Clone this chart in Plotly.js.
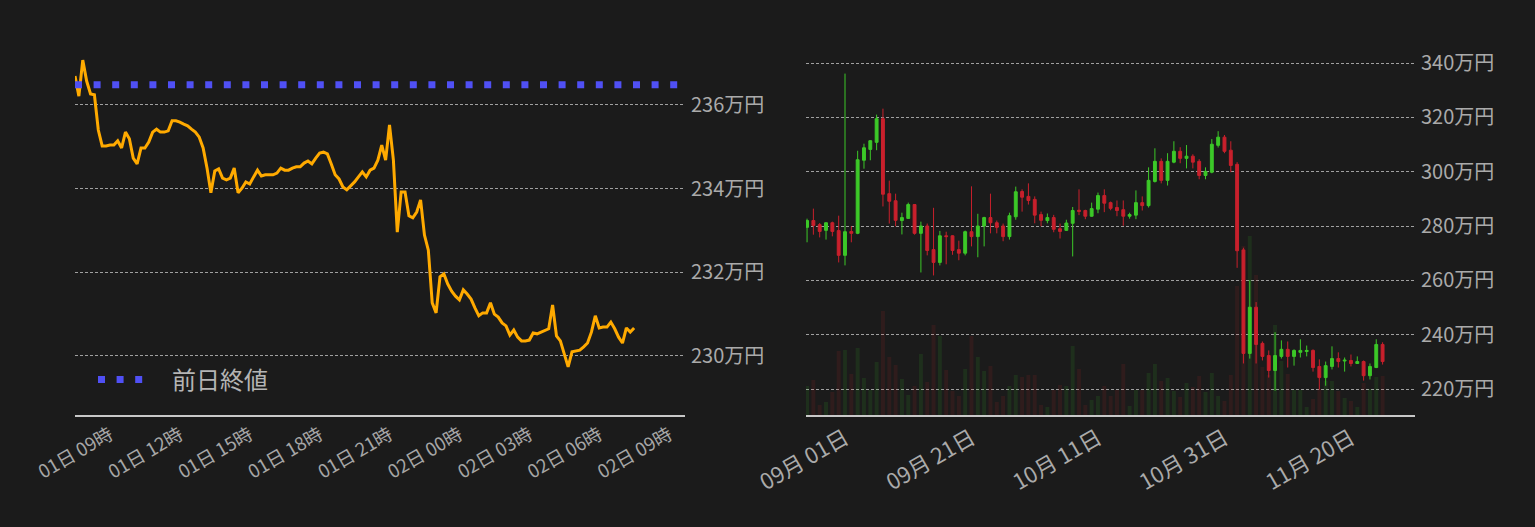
<!DOCTYPE html>
<html>
<head>
<meta charset="utf-8">
<script src="https://cdn.plot.ly/plotly-3.0.1.min.js"></script>
<style>
  html, body { margin: 0; padding: 0; background: #1b1b1b; }
  #chart { width: 1535px; height: 527px; }
</style>
</head>
<body>
<div id="chart"></div>
<script>
// ---- intraday (10 min samples, 万円) ----
let intraStart = Date.UTC(2022, 10, 1, 7, 30);
let intraPrice = [
  236.69, 236.21, 237.07, 236.57, 236.26, 236.24, 235.40, 235.02, 235.02, 235.04,
  235.04, 235.14, 234.97, 235.35, 235.19, 234.73, 234.59, 234.97, 234.97, 235.11,
  235.35, 235.42, 235.35, 235.35, 235.38, 235.62, 235.62, 235.59, 235.54, 235.50,
  235.42, 235.35, 235.23, 234.97, 234.49, 233.90, 234.42, 234.47, 234.25, 234.21,
  234.25, 234.49, 233.90, 234.01, 234.16, 234.11, 234.28, 234.44, 234.30, 234.33,
  234.33, 234.33, 234.37, 234.49, 234.44, 234.44, 234.49, 234.52, 234.52, 234.61,
  234.66, 234.59, 234.73, 234.85, 234.87, 234.83, 234.59, 234.33, 234.23, 234.04,
  233.97, 234.06, 234.16, 234.28, 234.40, 234.28, 234.44, 234.49, 234.68, 235.04,
  234.68, 235.52, 234.68, 232.96, 233.92, 233.92, 233.35, 233.30, 233.44, 233.73,
  232.89, 232.53, 231.27, 231.03, 231.89, 231.96, 231.72, 231.55, 231.43, 231.34,
  231.58, 231.48, 231.36, 231.15, 230.96, 231.03, 231.03, 231.27, 231.00, 230.93,
  230.79, 230.72, 230.50, 230.62, 230.45, 230.36, 230.36, 230.38, 230.55, 230.53,
  230.57, 230.60, 230.65, 231.22, 230.48, 230.36, 230.02, 229.74, 230.10, 230.12,
  230.14, 230.22, 230.31, 230.57, 230.96, 230.67, 230.69, 230.69, 230.81, 230.65,
  230.45, 230.31, 230.67, 230.57, 230.67
];
let prevClose = 236.48;
let prevLabel = "前日終値";
let leftTicks = [230, 232, 234, 236];

// ---- daily candles (万円) ----
let dayStart = Date.UTC(2022, 7, 26);
let dOpen = [
  279.5, 282.0, 280.5, 278.4, 281.2, 278.3, 269.2, 278.0, 277.3, 304.2,
  308.2, 310.8, 319.5, 291.9, 289.3, 282.0, 282.8, 287.9, 277.3, 280.0,
  271.3, 266.6, 276.4, 276.4, 271.3, 270.0, 277.9, 276.1, 280.0, 283.1,
  281.2, 280.0, 276.1, 283.4, 292.7, 290.9, 289.8, 284.2, 282.0, 283.1,
  279.0, 278.4, 281.0, 285.8, 285.7, 283.6, 286.2, 291.2, 288.6, 286.8,
  286.0, 283.6, 284.0, 288.6, 287.5, 296.4, 303.8, 296.8, 303.5, 307.5,
  304.9, 305.7, 303.8, 298.6, 299.8, 309.7, 312.7, 307.9, 302.7, 271.2,
  233.1, 250.1, 236.8, 232.3, 226.8, 232.0, 234.6, 232.0, 233.5, 233.8,
  234.2, 228.3, 224.2, 228.3, 231.2, 230.3, 230.5, 229.4, 230.1, 224.9,
  227.9, 236.4
];
let dHigh = [
  282.7, 286.4, 281.1, 281.4, 281.6, 283.8, 336.1, 279.9, 307.7, 310.3,
  311.6, 321.0, 323.2, 296.7, 291.9, 284.9, 288.6, 288.1, 281.6, 280.9,
  286.7, 278.2, 277.9, 276.6, 274.6, 278.3, 294.6, 284.5, 283.4, 291.9,
  282.0, 280.9, 284.9, 294.5, 293.5, 295.7, 290.9, 285.3, 284.6, 284.1,
  280.9, 282.3, 287.0, 293.5, 286.0, 288.6, 292.3, 293.5, 289.0, 289.4,
  289.4, 284.9, 293.1, 290.9, 301.6, 308.6, 304.9, 306.8, 311.2, 309.0,
  309.8, 306.4, 304.6, 301.6, 312.0, 314.9, 313.5, 311.2, 303.5, 272.0,
  260.0, 252.0, 237.5, 234.2, 240.9, 237.9, 237.5, 234.6, 238.3, 236.0,
  234.6, 230.9, 230.1, 235.7, 233.5, 231.6, 232.7, 232.0, 230.5, 229.4,
  238.3, 237.2
];
let dLow = [
  274.0, 276.8, 275.8, 275.0, 276.2, 266.6, 265.5, 274.0, 277.0, 301.1,
  304.2, 307.9, 287.2, 280.9, 279.9, 276.9, 282.6, 276.8, 262.9, 269.2,
  261.8, 265.5, 265.9, 269.4, 267.4, 269.2, 272.5, 268.5, 272.5, 277.3,
  277.3, 274.4, 275.0, 282.3, 285.3, 287.9, 281.0, 279.9, 281.0, 277.7,
  275.4, 278.2, 268.8, 284.0, 282.5, 283.4, 284.7, 285.1, 285.8, 283.6,
  280.1, 282.7, 282.5, 285.7, 286.8, 296.0, 295.7, 294.9, 303.1, 303.1,
  301.2, 301.2, 297.2, 297.2, 299.4, 308.9, 306.8, 299.8, 264.6, 229.4,
  231.2, 229.4, 230.5, 224.2, 219.4, 231.2, 227.9, 228.6, 231.6, 232.0,
  226.4, 219.8, 221.2, 227.2, 227.9, 226.4, 228.3, 229.3, 223.1, 223.5,
  227.7, 229.0
];
let dClose = [
  282.0, 280.2, 278.0, 281.2, 278.0, 269.2, 277.9, 277.3, 304.4, 308.8,
  311.4, 319.5, 291.7, 289.1, 282.1, 283.1, 287.9, 277.3, 280.0, 271.0,
  266.6, 276.4, 276.1, 271.0, 270.0, 277.9, 276.1, 280.0, 283.1, 281.2,
  279.5, 276.1, 283.8, 292.6, 290.6, 289.4, 284.0, 282.1, 283.1, 278.8,
  278.0, 281.1, 285.7, 285.4, 283.6, 286.4, 291.2, 288.4, 286.5, 285.7,
  283.6, 284.2, 288.6, 287.5, 296.8, 303.8, 296.8, 303.8, 307.5, 304.9,
  305.7, 303.5, 298.6, 300.1, 310.1, 312.7, 307.5, 302.3, 270.9, 233.1,
  250.1, 236.4, 232.0, 226.8, 232.3, 234.6, 232.0, 234.2, 234.2, 234.2,
  227.9, 224.2, 228.6, 231.2, 230.1, 230.6, 229.4, 230.1, 224.9, 228.3,
  236.4, 230.1
];
let dVolume = [
  2900, 3500, 1000, 1300, 2300, 6400, 6500, 4100, 6700, 3700,
  2500, 5300, 10400, 5800, 5000, 3600, 2000, 2900, 6100, 3300,
  9000, 7900, 4500, 2400, 1900, 4600, 7900, 5800, 4400, 4900,
  1300, 1900, 2900, 4000, 3800, 4000, 4000, 1000, 800, 2500,
  3000, 2900, 6900, 4600, 1000, 1500, 1900, 2900, 1900, 2500,
  5100, 900, 2500, 2500, 4200, 5100, 3400, 3700, 2400, 1800,
  3200, 2800, 3900, 2300, 4200, 1900, 1400, 4000, 12900, 16900,
  17900, 14000, 4800, 4000, 9000, 5400, 4100, 2500, 2500, 800,
  1600, 2600, 3400, 3400, 2400, 1700, 1400, 800, 3200, 2600,
  3800, 3900
];
let rightTicks = [220, 240, 260, 280, 300, 320, 340];

function fmt(ms) { return new Date(ms).toISOString().slice(0, 16).replace('T', ' '); }

let intraTime = intraPrice.map((p, i) => fmt(intraStart + i * 600000));
let days = dOpen.map((o, i) => fmt(dayStart + i * 86400000).slice(0, 10));

let upColor = '#3cc828';
let downColor = '#c8202c';
let gridColor = '#a0a0a0';
let leftRange = ['2022-11-01 07:30', '2022-11-02 09:41'];

let volColors = dOpen.map((o, i) => dClose[i] >= o ? 'rgba(60,200,40,0.12)' : 'rgba(200,40,40,0.12)');

let traces = [
  {
    type: 'scatter', mode: 'lines',
    x: intraTime, y: intraPrice,
    line: { color: '#ffaa00', width: 3 },
    xaxis: 'x', yaxis: 'y',
    showlegend: false, hoverinfo: 'skip'
  },
  {
    type: 'scatter', mode: 'lines',
    x: leftRange, y: [prevClose, prevClose],
    name: '\u2003' + prevLabel,
    line: { color: '#5050f5', width: 7, dash: '7px,11.6px' },
    xaxis: 'x', yaxis: 'y',
    showlegend: true, hoverinfo: 'skip'
  },
  {
    type: 'bar',
    x: days, y: dVolume,
    marker: { color: volColors, line: { width: 0 } },
    xaxis: 'x2', yaxis: 'y2',
    showlegend: false, hoverinfo: 'skip'
  },
  {
    type: 'candlestick',
    x: days, open: dOpen, high: dHigh, low: dLow, close: dClose,
    increasing: { line: { color: upColor, width: 1 }, fillcolor: upColor },
    decreasing: { line: { color: downColor, width: 1 }, fillcolor: downColor },
    whiskerwidth: 0,
    xaxis: 'x2', yaxis: 'y3',
    showlegend: false, hoverinfo: 'skip'
  }
];

let layout = {
  width: 1535, height: 527,
  paper_bgcolor: '#1b1b1b', plot_bgcolor: '#1b1b1b',
  margin: { l: 0, r: 0, t: 40, b: 112 },
  font: { family: '"Noto Sans CJK JP", "Noto Sans", sans-serif', color: '#aaaaaa' },
  showlegend: true,
  bargap: 0.38,
  boxgap: 0.35,
  legend: {
    x: 93 / 1535, y: 35 / 375, xanchor: 'left', yanchor: 'middle',
    bgcolor: 'rgba(0,0,0,0)', itemwidth: 45,
    font: { size: 24, color: '#b4b4b4' }
  },
  xaxis: {
    domain: [75 / 1535, 685 / 1535],
    type: 'date', range: leftRange,
    tick0: '2022-11-01 09:00', dtick: 3 * 3600000,
    tickformat: '%d日 %H時', tickangle: -30,
    tickfont: { size: 18.5, color: '#a6a6a6' },
    showgrid: false, zeroline: false, ticks: '',
    showline: true, linecolor: '#c8c8c8', linewidth: 2
  },
  yaxis: {
    anchor: 'x', side: 'right',
    range: [228.590, 237.551],
    tickvals: leftTicks, ticktext: leftTicks.map(v => v + '万円'),
    tickfont: { size: 20, color: '#aaaaaa' }, ticklabelstandoff: 5,
    showgrid: true, gridcolor: gridColor, gridwidth: 1, griddash: '3px,2px',
    zeroline: false, showline: false, ticks: ''
  },
  xaxis2: {
    domain: [806 / 1535, 1415 / 1535], anchor: 'y2',
    type: 'date', range: ['2022-08-25 20:00', '2022-11-30 03:00'],
    tick0: '2022-09-01', dtick: 20 * 86400000,
    tickformat: '%m月 %d日', tickangle: -30,
    tickfont: { size: 22, color: '#aaaaaa' },
    rangeslider: { visible: false },
    showgrid: false, zeroline: false, ticks: '',
    showline: true, linecolor: '#c8c8c8', linewidth: 2
  },
  yaxis2: {
    anchor: 'x2', range: [0, 37500], visible: false, showgrid: false
  },
  yaxis3: {
    anchor: 'x2', overlaying: 'y2', side: 'right',
    range: [210.43, 348.47],
    tickvals: rightTicks, ticktext: rightTicks.map(v => v + '万円'),
    tickfont: { size: 20, color: '#aaaaaa' }, ticklabelstandoff: 5,
    showgrid: true, gridcolor: gridColor, gridwidth: 1, griddash: '3px,2px',
    zeroline: false, showline: false, ticks: ''
  }
};

Plotly.newPlot('chart', traces, layout, { displayModeBar: false, staticPlot: true });
</script>
</body>
</html>
